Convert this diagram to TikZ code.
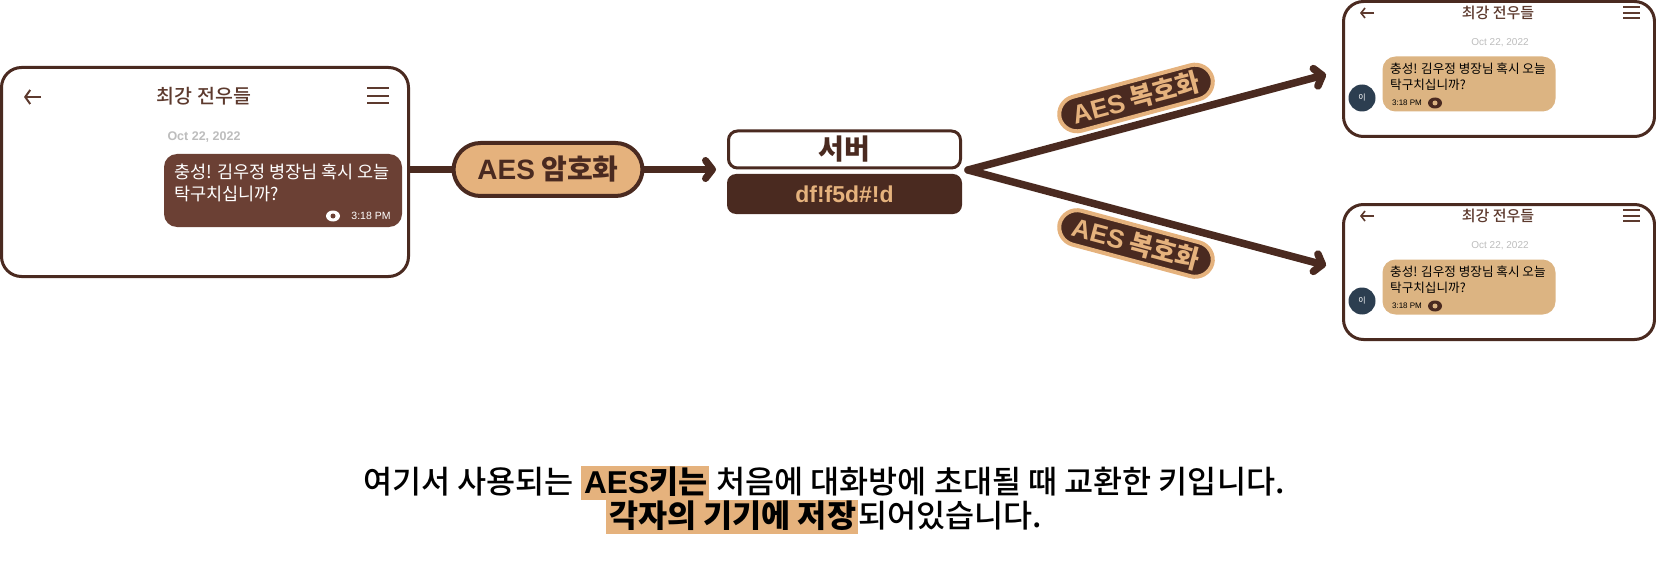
\documentclass[tikz,border=0pt]{standalone}
\usepackage{fontspec}
\setmainfont{Noto Sans CJK KR}
\newfontfamily\krmed{Noto Sans CJK KR Medium}
\newfontfamily\krblack{Noto Sans CJK KR Black}
\newfontfamily\latfont{Liberation Sans}
\usepackage{tikz}
\usetikzlibrary{arrows.meta,positioning,calc}
\definecolor{aesdark}{HTML}{4A2A20}
\definecolor{aestan}{HTML}{E5B27D}
\definecolor{bubblebrown}{HTML}{6B4034}
\definecolor{bubbletan}{HTML}{DCB482}
\definecolor{titlebrown}{HTML}{5D3A2E}
\definecolor{dategrey}{HTML}{BDBDBD}
\definecolor{avatarblue}{HTML}{2C3E50}
\newcommand{\fsz}[1]{\fontsize{#1}{#1}\selectfont}
\newcommand{\aes}{{\latfont\bfseries AES}}
\newcommand{\hl}[1]{{\setlength\fboxsep{0pt}\colorbox{aestan}{\rule[-6.5pt]{0pt}{33pt}\kern3pt\krblack #1\kern2pt}}}
\newcommand{\eyeicon}[3]{%
    \fill[#3] (#1) ellipse (7 and 5.5);
    \fill[#2] (#1) circle (2.5);
}
\tikzset{
    phone/.style={draw=aesdark,fill=white,line width=3pt,rounded corners=20pt,inner sep=0pt},
    bubble/.style={rounded corners=13pt,inner sep=0pt},
    plain/.style={inner sep=0pt,text=titlebrown},
    flow/.style={draw=aesdark,line width=7pt},
    flowtip/.style={flow,line cap=round,-{Straight Barb[round,length=7pt,width=18pt]}},
    branch/.style={draw=aesdark,line width=7.5pt,line cap=round,line join=round,-{Straight Barb[round,length=7pt,width=18pt]}},
    icon/.style={draw=titlebrown,line width=1.6pt},
    encpill/.style={draw=aesdark,fill=aestan,line width=4pt,rounded corners=27pt,minimum width=189pt,minimum height=53pt,text=aesdark,font=\fsz{28}\krblack,inner sep=0pt},
    decpill/.style={draw=aestan,fill=aesdark,line width=4pt,rounded corners=18pt,minimum width=158pt,minimum height=35pt,text=aestan,font=\fsz{26}\krblack,inner sep=0pt},
    caption/.style={inner sep=0pt,text=black,font=\fsz{31.6}\krmed}
}
\begin{document}
\begin{tikzpicture}[x=1pt,y=-1pt]
\useasboundingbox (0,0) rectangle (1656,588);
% sender
\node[phone,minimum width=407pt,minimum height=209pt] (phonesend) at (205,172) {};
\node[plain,font=\fsz{19.5}\krmed] (titlesend) at (204,96) {최강 전우들};
\draw[icon,line width=2pt,-{Straight Barb[length=5pt,width=14pt]}] (41,97) -- (24,97);
\foreach \y in {88,96,103}{
    \draw[icon,line width=2pt] (367,\y) -- (389,\y);
}
\node[plain,text=dategrey,font=\fsz{12.5}\latfont\bfseries] (datesend) at (204,137) {Oct 22, 2022};
\node[bubble,fill=bubblebrown,minimum width=238pt,minimum height=73pt] (bubblesend) at (283,190.5) {};
\node[plain,text=white,anchor=north west,align=left,font=\fontsize{17.5}{22}\selectfont] (msgsend) at (174,164) {충성! 김우정 병장님 혹시 오늘\\탁구치십니까?};
\node[plain,text=white,font=\fsz{10.5}\latfont] (timesend) at (371,216) {3:18 PM};
\eyeicon{333,216}{bubblebrown}{white}
% encrypt and server
\node[encpill] (pillenc) at (548,169.5) {\aes{} 암호화};
\draw[flow] (phonesend.east |- pillenc) -- (pillenc.west);
\coordinate (tipserver) at (716,169.5);
\draw[flowtip] (pillenc.east) -- (tipserver);
\node[draw=aesdark,fill=white,line width=3pt,rounded corners=9pt,minimum width=232pt,minimum height=37pt,inner sep=0pt,text=aesdark,font=\fsz{28}\krblack] (server) at (844.5,149.5) {서버};
\node[fill=aesdark,rounded corners=9pt,minimum width=235pt,minimum height=40pt,inner sep=0pt,text=aestan,font=\fsz{23}\latfont\bfseries] (cipher) at (844.5,194) {df!f5d\#!d};
% receivers
\coordinate (apex) at (968,170);
\coordinate (tipa) at (1326,74.5);
\coordinate (tipb) at (1326,265.5);
\draw[branch] (apex) -- (tipa);
\draw[branch] (apex) -- (tipb);
\node[decpill,rotate=15] (pilla) at (1136,98) {\aes{} 복호화};
\node[decpill,rotate=-15] (pillb) at (1136,243.5) {\aes{} 복호화};
\foreach \n/\dy in {a/0,b/203}{
    \begin{scope}[shift={(0,\dy)}]
    \node[phone,minimum width=311pt,minimum height=135pt] (phone\n) at (1499,69) {};
    \node[plain,font=\fsz{15}\krmed] (title\n) at (1498,13) {최강 전우들};
    \draw[icon,-{Straight Barb[length=4pt,width=10pt]}] (1374,13) -- (1360,13);
    \foreach \y in {7,13,18}{
        \draw[icon] (1623,\y) -- (1640,\y);
    }
    \node[plain,text=dategrey,font=\fsz{10}\latfont] (date\n) at (1500,43) {Oct 22, 2022};
    \node[bubble,fill=bubbletan,minimum width=173pt,minimum height=55pt] (bubble\n) at (1469,84) {};
    \node[plain,text=black,anchor=north west,align=left,font=\fontsize{12.6}{15.5}\selectfont] (msg\n) at (1390,63) {충성! 김우정 병장님 혹시 오늘\\탁구치십니까?};
    \node[plain,text=black,font=\fsz{8}\latfont] (time\n) at (1407,103) {3:18 PM};
    \eyeicon{1435,103}{bubbletan}{aesdark}
    \node[circle,fill=avatarblue,minimum size=27pt,inner sep=0pt,text=white,font=\fsz{8}] (avatar\n) at (1362,98) {이};
    \end{scope}
}
% caption
\node[caption] (capone) at (824,483) {여기서 사용되는 \hl{\aes{}키는} 처음에 대화방에 초대될 때 교환한 키입니다.};
\node[caption] (captwo) at (824,517) {\hl{각자의 기기에 저장}되어있습니다.};
\end{tikzpicture}
\end{document}
